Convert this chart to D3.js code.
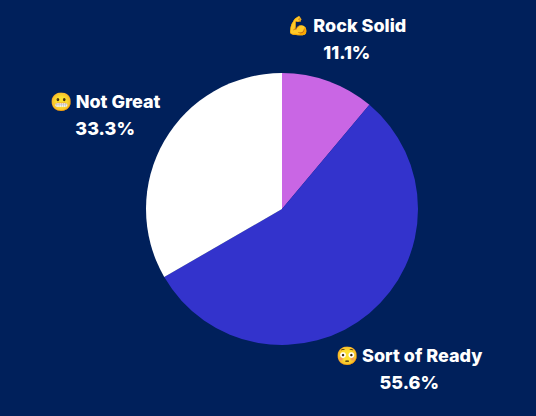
<!DOCTYPE html>
<html><head><meta charset="utf-8">
<script src="https://cdn.jsdelivr.net/npm/d3@7"></script>
<style>body{margin:0;background:#00205b}</style>
</head><body>
<script>
const labels = ["Rock Solid", "Sort of Ready", "Not Great"];
const emojis = ["💪", "😳", "😬"];
const values = [1, 5, 3];
const colors = ["#c966e4", "#3333cc", "#ffffff"];

const width = 536, height = 416;
const cx = 282, cy = 209, radius = 136;

const svg = d3.select("body").append("svg")
    .attr("width", width).attr("height", height)
    .style("background", "#00205b");

const pie = d3.pie().sort(null).value(d => d)(values);
const total = d3.sum(values);
const arc = d3.arc().innerRadius(0).outerRadius(radius);

const g = svg.append("g").attr("transform", `translate(${cx},${cy})`);
g.selectAll("path").data(pie).join("path")
    .attr("d", arc)
    .attr("fill", (d, i) => colors[i]);

// labels outside the pie, pushed further out toward the sides
const lab = g.selectAll("g.lab").data(pie).join("g")
    .attr("class", "lab")
    .attr("transform", d => {
        const a = (d.startAngle + d.endAngle) / 2;
        const r = 180 + 28 * Math.abs(Math.sin(a));
        const dy = Math.cos(a) > 0 || Math.sin(a) > 0 ? 7 : 0;
        return `translate(${r * Math.sin(a)},${-r * Math.cos(a) + dy})`;
    })
    .attr("font-family", "Inter, 'Noto Sans', sans-serif")
    .attr("font-weight", 800)
    .attr("font-size", "18px")
    .attr("fill", "white")
    .attr("text-anchor", "middle");

lab.append("text").attr("y", -6)
    .text((d, i) => `${emojis[i]}  ${labels[i]}`);
lab.append("text").attr("y", 21)
    .text(d => (d.value / total * 100).toFixed(1) + "%");
</script>
</body></html>
